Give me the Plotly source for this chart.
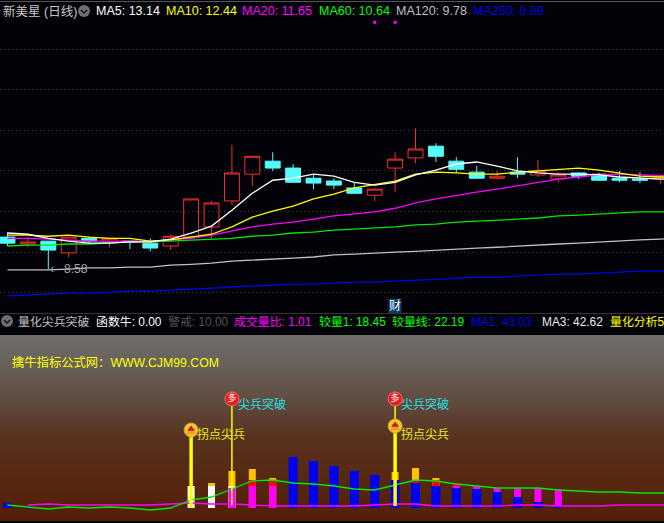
import numpy as np
import plotly.graph_objects as go

# ---------- price panel data ----------
opens  = [9.37,9.20,9.27,8.98,9.34,9.25,9.27,9.22,9.15,9.37,9.62,10.26,10.92,11.24,11.07,10.82,10.75,10.58,10.40,11.07,11.32,11.61,11.24,10.97,10.82,10.97,10.90,10.80,10.95,10.92,10.82,10.80,10.80]
highs  = [9.49,9.37,9.27,9.37,9.39,9.34,9.27,9.34,9.44,10.31,10.26,11.64,11.36,11.46,11.17,10.92,10.82,10.72,10.58,11.46,12.05,11.68,11.34,11.12,11.00,11.34,11.27,10.97,10.97,10.95,11.00,10.97,10.90]
lows   = [9.15,9.12,8.58,8.88,9.22,9.12,9.07,9.02,9.05,9.37,9.32,10.16,10.63,11.00,10.72,10.55,10.55,10.43,10.26,10.48,11.19,11.22,10.97,10.80,10.80,10.82,10.85,10.72,10.80,10.77,10.72,10.70,10.67]
closes = [9.22,9.25,9.05,9.37,9.27,9.34,9.25,9.10,9.39,10.31,10.21,10.95,11.36,11.07,10.72,10.70,10.65,10.45,10.55,11.29,11.54,11.36,11.04,10.82,10.87,10.92,11.00,10.90,10.87,10.77,10.77,10.77,10.85]
ma5   = [9.47,9.44,9.34,9.27,9.22,9.22,9.25,9.25,9.32,9.47,9.64,10.03,10.45,10.77,10.82,10.92,10.87,10.72,10.65,10.72,10.90,11.02,11.17,11.22,11.12,11.00,10.95,10.92,10.92,10.90,10.85,10.82,10.80,10.80]
ma10  = [9.42,9.42,9.39,9.42,9.37,9.34,9.34,9.27,9.30,9.37,9.44,9.62,9.86,10.01,10.13,10.31,10.43,10.58,10.67,10.75,10.92,10.97,10.95,10.92,10.92,10.97,11.00,11.04,11.07,11.02,10.95,10.87,10.85,10.85]
ma20  = [9.34,9.34,9.32,9.30,9.27,9.27,9.27,9.27,9.30,9.34,9.42,9.52,9.62,9.69,9.74,9.81,9.89,9.94,9.99,10.08,10.21,10.31,10.40,10.48,10.55,10.63,10.72,10.80,10.85,10.90,10.92,10.90,10.87,10.87]
ma60  = [9.15,9.17,9.17,9.20,9.20,9.22,9.25,9.25,9.27,9.30,9.32,9.34,9.39,9.42,9.47,9.49,9.54,9.57,9.59,9.62,9.67,9.69,9.74,9.76,9.79,9.81,9.84,9.89,9.91,9.94,9.96,9.99,9.99,10.00]
ma120 = [8.56,8.56,8.56,8.58,8.61,8.61,8.63,8.63,8.68,8.70,8.73,8.78,8.80,8.83,8.85,8.88,8.93,8.95,8.98,9.00,9.02,9.05,9.07,9.10,9.12,9.15,9.17,9.20,9.22,9.25,9.27,9.30,9.32,9.34]
ma250 = [7.92,7.94,7.97,7.99,7.99,8.01,8.04,8.04,8.06,8.09,8.11,8.14,8.16,8.19,8.21,8.21,8.24,8.26,8.26,8.29,8.31,8.33,8.36,8.38,8.38,8.41,8.43,8.46,8.46,8.48,8.51,8.53,8.53,8.55]
grid_prices = [8, 9, 10, 11, 12, 13, 14]
low_label = "8.58"
mark_days = [18, 19]
mark_prices = [14.66, 14.66]

# ---------- lower panel data ----------
N = None
vol_orange  = [N,N,N,N,N,N,N,N,N,N,25,37,39,30,N,N,N,N,N,36,40,30,N,N,N,N,N,N]
vol_red     = [N,N,N,N,N,N,N,N,N,N,N,N,28,28,N,N,N,N,N,N,28,28,25,N,N,N,N,N]
vol_white   = [N,N,N,N,N,N,N,N,N,22,22,22,N,N,N,N,N,N,N,N,N,N,N,N,N,N,N,N]
vol_magenta = [N,N,N,N,N,N,N,N,N,N,N,20,22,22,N,N,N,N,N,N,N,N,22,22,20,20,20,19]
vol_blue    = [5,2,N,N,N,N,N,N,N,N,N,N,N,N,51,47,42,37,33,28,25,22,20,19,16,11,6,2]
line_green  = [3,1,-1,1,0,1,0,-2,0,8,11,19,27,28,25,24,22,19,18,23,28,27,24,22,20,20,20,18,17,16,16,15,15,15]
line_magenta= [N,3,4,3,3,3,3,3,4,5,4,4,3,2,2,2,2,2,3,4,4,2,2,2,2,3,3,2,2,2,3,3,3,3]
dotted_level = 18
thick_days = [9, 19]
thick_base = [0, 2]
thick_top  = [78, 82]
thin_days  = [11, 19]
thin_base  = [3, 82]
thin_top   = [109, 109]
label_thick = "拐点尖兵"
label_thin  = "尖兵突破"
watermark = "擒牛指标公式网：WWW.CJM99.COM"

# ---------- headers ----------
FONT = "Liberation Sans, Noto Sans CJK SC, sans-serif"
header_top = [("新美星 (日线)", 2, "#c8c8c8"), ("MA5: 13.14", 95, "#ffffff"), ("MA10: 12.44", 165, "#ffff00"),
              ("MA20: 11.65", 241, "#ff00ff"), ("MA60: 10.64", 318, "#00ff00"), ("MA120: 9.78", 395, "#c0c0c0"),
              ("MA250: 8.89", 472, "#0000e6")]
header_low = [("量化尖兵突破", 17, "#c0c0c0"), ("函数牛: 0.00", 95, "#ffffff"), ("警戒: 10.00", 167, "#555555"),
              ("成交量比: 1.01", 233, "#ff00ff"), ("较量1: 18.45", 318, "#00ff00"), ("较量线: 22.19", 391, "#00ff00"),
              ("MA1: 43.03", 470, "#0000e6"), ("MA3: 42.62", 541, "#e8e8e8"), ("量化分析5", 609, "#ffff00")]

BG = "#020208"
W, H = 664, 523
px = lambda v: v / W
py = lambda v: 1 - v / H

days = list(range(33))
days_long = list(range(34))
bar_days = list(range(28))
narrow, wide = 0.343, 0.441

fig = go.Figure()

# gradient backdrop of lower panel
grad_edges = np.linspace(-13, 173, 187)
grad_vals = [[v] for v in (grad_edges[:-1] + grad_edges[1:]) / 2]
fig.add_trace(go.Heatmap(x=[-1, 34], y=grad_edges, z=grad_vals, xaxis="x2", yaxis="y2", showscale=False,
                         hoverinfo="skip", zmin=-13, zmax=173,
                         colorscale=[[0, "#531e06"], [0.2, "#562710"], [0.45, "#58321f"], [0.7, "#635248"],
                                     [0.88, "#6a6460"], [1, "#6f6f6c"]]))

# candles
fig.add_trace(go.Candlestick(x=days, open=opens, high=highs, low=lows, close=closes, whiskerwidth=0,
                             increasing=dict(line=dict(color="#f23030", width=1), fillcolor="rgba(0,0,0,0)"),
                             decreasing=dict(line=dict(color="#54fcfc", width=1), fillcolor="#54fcfc"),
                             xaxis="x", yaxis="y"))
for vals, col in [(ma250, "#0000e6"), (ma120, "#c0c0c0"), (ma60, "#00e600"),
                  (ma20, "#ff00ff"), (ma10, "#ffff00"), (ma5, "#ffffff")]:
    fig.add_trace(go.Scatter(x=days_long, y=vals, mode="lines", line=dict(color=col, width=1.3),
                             xaxis="x", yaxis="y"))
fig.add_trace(go.Scatter(x=mark_days, y=mark_prices, mode="markers", xaxis="x", yaxis="y",
                         marker=dict(symbol="square", size=3, color="#ff00ff")))

# volume-like bars, tallest layer first
for vals, col, wd in [(vol_orange, "#ffc000", narrow), (vol_red, "#ff0000", narrow), (vol_white, "#ffffff", narrow),
                      (vol_magenta, "#ff00ff", narrow), (vol_blue, "#0000f0", wide)]:
    fig.add_trace(go.Bar(x=bar_days, y=vals, width=wd, marker=dict(color=col, line=dict(width=0)),
                         xaxis="x2", yaxis="y2"))
fig.add_trace(go.Scatter(x=days_long, y=line_magenta, mode="lines", line=dict(color="#ff00ff", width=1.3),
                         connectgaps=False, xaxis="x2", yaxis="y2"))
fig.add_trace(go.Scatter(x=days_long, y=line_green, mode="lines", line=dict(color="#00e600", width=1.3),
                         xaxis="x2", yaxis="y2"))

# sticks and icons
for d, b, t in zip(thick_days, thick_base, thick_top):
    fig.add_trace(go.Scatter(x=[d, d], y=[b, t], mode="lines", line=dict(color="#ffff00", width=3.5),
                             xaxis="x2", yaxis="y2"))
for d, b, t in zip(thin_days, thin_base, thin_top):
    fig.add_trace(go.Scatter(x=[d, d], y=[b, t], mode="lines", line=dict(color="#ffff00", width=1.5),
                             xaxis="x2", yaxis="y2"))
fig.add_trace(go.Scatter(x=thick_days, y=thick_top, mode="markers", xaxis="x2", yaxis="y2",
                         marker=dict(symbol="circle", size=14, color="#f4c63a", line=dict(color="#caa02a", width=1))))
fig.add_trace(go.Scatter(x=thick_days, y=[v - 2 for v in thick_top], mode="markers", xaxis="x2", yaxis="y2",
                         marker=dict(symbol="triangle-up", size=9, color="#f59a1c")))
fig.add_trace(go.Scatter(x=thick_days, y=[v + 1 for v in thick_top], mode="markers", xaxis="x2", yaxis="y2",
                         marker=dict(symbol="triangle-up", size=7, color="#c4200c")))
fig.add_trace(go.Scatter(x=thin_days, y=thin_top, mode="markers+text", xaxis="x2", yaxis="y2",
                         marker=dict(symbol="circle", size=14, color="#e81c1c", line=dict(color="#ff6a5a", width=1)),
                         text=["多", "多"], textposition="middle center",
                         textfont=dict(color="#ffffff", size=9, family=FONT)))

annotations = []
for txt, x, col in header_top:
    annotations.append(dict(xref="paper", yref="paper", x=px(x), y=py(11), text=txt, showarrow=False, xanchor="left",
                            yanchor="middle", xshift=-1, font=dict(color=col, size=12.5, family=FONT)))
for txt, x, col in header_low:
    annotations.append(dict(xref="paper", yref="paper", x=px(x), y=py(322), text=txt, showarrow=False, xanchor="left",
                            yanchor="middle", xshift=-1, font=dict(color=col, size=11.9, family=FONT)))
annotations.append(dict(xref="paper", yref="paper", x=px(11), y=py(362), text=watermark, showarrow=False,
                        xanchor="left", yanchor="middle", xshift=-1, font=dict(color="#ffff00", size=12.3, family=FONT)))
for d, lab, col, yv in [(11, label_thin, "#1fe0e6", 104), (19, label_thin, "#1fe0e6", 104),
                        (9, label_thick, "#e8e81e", 74), (19, label_thick, "#e8e81e", 74)]:
    annotations.append(dict(xref="x2", yref="y2", x=d, y=yv, text=lab, showarrow=False, xanchor="left",
                            yanchor="middle", xshift=4, font=dict(color=col, size=12, family=FONT)))
annotations.append(dict(xref="x", yref="y", x=2, y=8.58, text=low_label, showarrow=False, xanchor="left",
                        yanchor="middle", xshift=14, font=dict(color="#a8a8a8", size=12, family=FONT)))
annotations.append(dict(xref="x", yref="y", x=2, y=8.58, text="‹", showarrow=False, xanchor="left",
                        yanchor="middle", xshift=0, font=dict(color="#a8a8a8", size=12, family=FONT)))
annotations.append(dict(xref="x", yref="y", x=19, y=7.67, text="财", showarrow=False, bgcolor="#0a3a6a",
                        borderpad=0, font=dict(color="#ffffff", size=12, family=FONT)))

shapes = [
    dict(type="line", xref="paper", yref="paper", x0=0, x1=1, y0=py(1.5), y1=py(1.5), line=dict(color="#555555", width=1)),
    dict(type="line", xref="paper", yref="paper", x0=0, x1=1, y0=py(313.5), y1=py(313.5), line=dict(color="#333333", width=1)),
    dict(type="line", xref="x2", yref="y2", x0=-0.02, x1=33, y0=dotted_level, y1=dotted_level, layer="below",
         line=dict(color="#7a7a7a", width=1, dash="3px,3px")),
]
for cx, cy in [(84, 11), (7, 321)]:
    shapes.append(dict(type="circle", xref="paper", yref="paper", x0=px(cx - 6), x1=px(cx + 6), y0=py(cy + 6), y1=py(cy - 6),
                       fillcolor="#6e6e6e", line=dict(width=0)))
    shapes.append(dict(type="path", xref="paper", yref="paper", line=dict(color="#1a1a1a", width=1.5),
                       path=f"M {px(cx-3)} {py(cy-1)} L {px(cx)} {py(cy+2)} L {px(cx+3)} {py(cy-1)}"))

xrange = [-0.368, 32.18]
fig.update_layout(
    width=W, height=H, autosize=False, margin=dict(l=0, r=0, t=0, b=0, pad=0),
    paper_bgcolor=BG, plot_bgcolor=BG, showlegend=False, barmode="overlay", hovermode=False,
    boxmode="group", boxgap=0.27, boxgroupgap=0,
    annotations=annotations, shapes=shapes,
    xaxis=dict(domain=[0, 1], range=xrange, visible=False, rangeslider=dict(visible=False), anchor="y"),
    xaxis2=dict(domain=[0, 1], range=xrange, visible=False, anchor="y2"),
    yaxis=dict(domain=[py(313), 1], range=[7.50, 15.21], anchor="x", tickvals=grid_prices, showticklabels=False,
               showgrid=True, gridcolor="#3c3c34", griddash="1px,3px", gridwidth=1, zeroline=False, ticks="", showline=False),
    yaxis2=dict(domain=[py(521), py(335)], range=[-13, 173], anchor="x2", visible=False),
)
fig.write_html("out.html", config={"displayModeBar": False},
               post_script="document.body.style.margin='0';document.body.style.overflow='hidden';")
